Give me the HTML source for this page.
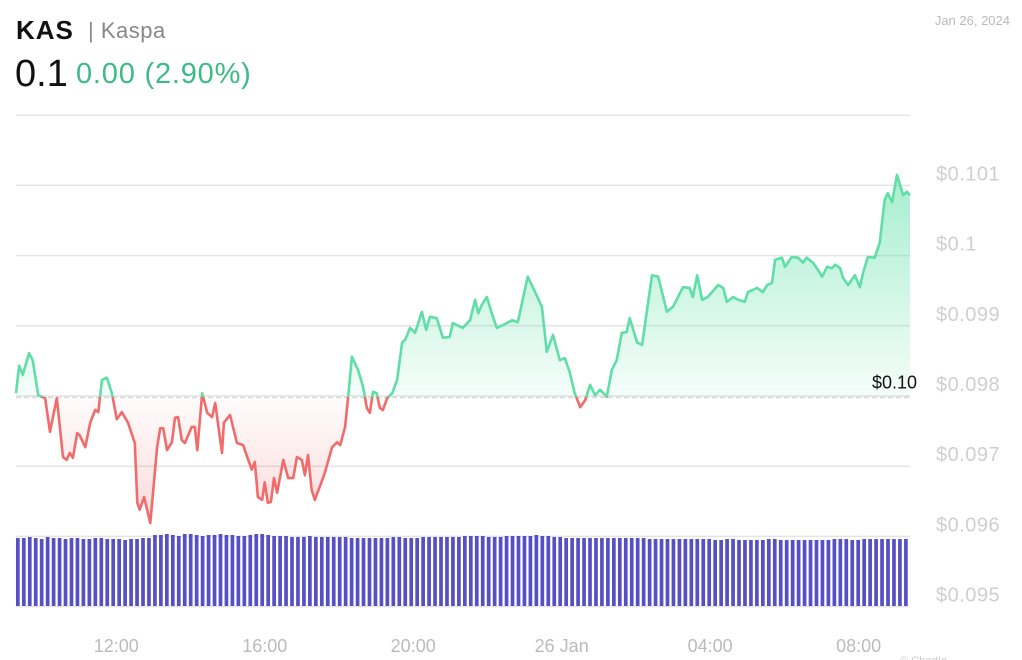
<!DOCTYPE html>
<html><head><meta charset="utf-8"><style>
body{margin:0;background:#fff;width:1022px;height:660px;overflow:hidden;font-family:"Liberation Sans",sans-serif;}
svg{position:absolute;left:0;top:0}
</style></head><body>
<svg id="c" width="1022" height="660" viewBox="0 0 1022 660" xmlns="http://www.w3.org/2000/svg">
<defs>
<linearGradient id="gg" gradientUnits="userSpaceOnUse" x1="0" y1="175" x2="0" y2="397"><stop offset="0" stop-color="#5ee0a8" stop-opacity="0.55"/><stop offset="1" stop-color="#5ee0a8" stop-opacity="0.06"/></linearGradient>
<linearGradient id="rg" gradientUnits="userSpaceOnUse" x1="0" y1="397" x2="0" y2="525"><stop offset="0" stop-color="#f06a6a" stop-opacity="0.02"/><stop offset="1" stop-color="#f06a6a" stop-opacity="0.25"/></linearGradient>
<clipPath id="above"><rect x="0" y="0" width="1022" height="397"/></clipPath>
<clipPath id="below"><rect x="0" y="397" width="1022" height="300"/></clipPath>
</defs>
<text x="16" y="39" font-size="26" font-weight="bold" fill="#111" letter-spacing="1">KAS</text>
<text x="88" y="38" font-size="22" fill="#888" letter-spacing="0.5">| Kaspa</text>
<text x="15" y="86" font-size="38" fill="#111">0.1</text>
<text x="76" y="83" font-size="29" fill="#3dbb86" letter-spacing="0.8">0.00 (2.90%)</text>
<text x="1010" y="25" font-size="13" fill="#bbb" text-anchor="end">Jan 26, 2024</text>
<g id="grid"></g><g id="vol"></g><g id="area"></g><g id="line"></g><g id="labels"></g>
<text x="900" y="664" font-size="11" fill="#ccc">© ChartIn</text>
</svg>
<script>
const priceTimes=[0,5,11,21,27,36,47,55,66,76,82,87,92,99,103,112,120,128,133,139,147,155,163,171,181,192,196,200,207,217,228,233,238,244,252,257,262,268,273,284,289,293,301,309,317,322,333,336,346,357,367,381,386,391,398,402,407,412,417,422,432,440,448,454,462,467,472,478,483,495,499,511,519,524,532,537,543,553,561,567,572,577,583,588,593,600,608,616,624,629,637,645,656,663,669,680,690,701,706,722,734,742,747,753,761,769,777,787,802,811,827,836,850,858,868,879,887,895,903,912,920,928,936,944,955,963,971,979,987,992,1004,1012,1028,1038,1052,1062,1070,1078,1089,1094,1101,1109,1118,1135,1143,1149,1159,1167,1178,1183,1198,1207,1214,1222,1227,1238,1243,1254,1264,1272,1278,1288,1296,1303,1311,1319,1324,1332,1337,1345,1356,1364,1369,1377,1388,1396,1404,1409,1416,1424,1434,1440,1445];
const priceValues=[0.09804,0.09843,0.09830,0.09861,0.09851,0.09801,0.09797,0.09749,0.09797,0.09713,0.09709,0.09719,0.09712,0.09747,0.09744,0.09727,0.09762,0.09780,0.09777,0.09823,0.09826,0.09804,0.09767,0.09777,0.09762,0.09733,0.09648,0.09638,0.09656,0.09619,0.09727,0.09754,0.09754,0.09723,0.09734,0.09769,0.09770,0.09737,0.09733,0.09756,0.09756,0.09723,0.09804,0.09776,0.09770,0.09790,0.09719,0.09762,0.09773,0.09733,0.09730,0.09695,0.09706,0.09656,0.09652,0.09677,0.09648,0.09649,0.09683,0.09662,0.09709,0.09683,0.09683,0.09713,0.09709,0.09687,0.09716,0.09666,0.09652,0.09680,0.09690,0.09727,0.09734,0.09730,0.09756,0.09799,0.09856,0.09837,0.09813,0.09783,0.09776,0.09806,0.09804,0.09783,0.09780,0.09797,0.09804,0.09823,0.09876,0.09880,0.09897,0.09890,0.09920,0.09894,0.09913,0.09911,0.09883,0.09884,0.09904,0.09897,0.09908,0.09937,0.09918,0.09930,0.09941,0.09918,0.09897,0.09901,0.09908,0.09905,0.09970,0.09954,0.09927,0.09863,0.09887,0.09851,0.09854,0.09834,0.09804,0.09784,0.09794,0.09816,0.09801,0.09809,0.09799,0.09837,0.09851,0.09890,0.09891,0.09911,0.09876,0.09873,0.09972,0.09970,0.09920,0.09927,0.09941,0.09955,0.09954,0.09941,0.09972,0.09937,0.09941,0.09958,0.09954,0.09934,0.09941,0.09937,0.09934,0.09948,0.09954,0.09948,0.09958,0.09961,0.09994,0.09997,0.09984,0.09998,0.09997,0.09990,0.09997,0.09990,0.09980,0.09970,0.09984,0.09982,0.09987,0.09982,0.09968,0.09958,0.09972,0.09955,0.09975,0.09998,0.09997,0.10018,0.10079,0.10089,0.10076,0.10115,0.10086,0.10091,0.10086];
const volumes=[68,68,69,68,67,69,68,68,67,68,68,67,67,68,68,67,67,67,66,67,67,68,68,
71,71,72,71,70,72,72,71,70,71,71,72,71,71,70,70,71,72,72,71,70,70,70,69,69,69,70,69,69,69,
69,69,69,68,68,68,68,68,68,68,69,69,68,68,68,69,69,69,69,69,69,69,70,70,70,70,69,69,69,70,70,70,70,70,71,70,70,69,69,68,68,68,68,68,68,
68,68,68,68,68,68,68,68,67,67,67,67,67,67,67,67,67,67,67,66,66,67,67,66,66,66,66,66,67,67,66,66,66,66,66,66,66,66,66,67,67,67,66,66,67,67,67,67,67,67,67,67];
const yTicks=[0.101,0.1,0.099,0.098,0.097,0.096,0.095];
const yTickLabels=["$0.101","$0.1","$0.099","$0.098","$0.097","$0.096","$0.095"];
const xTickTimes=[162,402,642,882,1122,1362];
const xTickLabels=["12:00","16:00","20:00","26 Jan","04:00","08:00"];
const baseline=0.09798;
const baselineLabel="$0.10";

const NS="http://www.w3.org/2000/svg";
const X0=16,X1=910,T1=1445;
const x=t=>X0+t*(X1-X0)/T1;
const y=p=>396-(p-0.098)*70200;
const volY=v=>606-v;
function mk(tag,attrs,parent){const e=document.createElementNS(NS,tag);for(const k in attrs)e.setAttribute(k,attrs[k]);document.getElementById(parent).appendChild(e);return e;}
[0.102,...yTicks].forEach(v=>{const l=mk('line',{x1:X0,x2:X1,y1:y(v),y2:y(v),stroke:'#e4e4e4','stroke-width':1.5},'grid');

});
yTicks.forEach((v,i)=>{const t=mk('text',{x:936,y:y(v)-5,'font-size':20,fill:'#cfcfcf','letter-spacing':0.5},'labels');t.textContent=yTickLabels[i];

});
xTickTimes.forEach((v,i)=>{const t=mk('text',{x:x(v),y:652,'font-size':18,fill:'#bbb','text-anchor':'middle'},'labels');t.textContent=xTickLabels[i];

});
const step=(X1-X0)/volumes.length;
volumes.forEach((v,i)=>{const r=mk('rect',{x:X0+i*step,y:volY(v),width:step*0.62,height:606-volY(v),fill:'#5650c4'},'vol');

});
const pts=priceTimes.map((t,i)=>[x(t),y(priceValues[i])]);
const d='M'+pts.map(p=>p[0].toFixed(1)+','+p[1].toFixed(1)).join('L');
const by=y(baseline);
const ad=d+`L${pts[pts.length-1][0]},${by}L${pts[0][0]},${by}Z`;
const ga=mk('path',{d:ad,fill:'url(#gg)','clip-path':'url(#above)'},'area');


const ra=mk('path',{d:ad,fill:'url(#rg)','clip-path':'url(#below)'},'area');


const bl=mk('line',{x1:X0,x2:X1,y1:by,y2:by,stroke:'#d8d8d8','stroke-width':1.5,'stroke-dasharray':'5,3'},'line');


const gl=mk('path',{d:d,fill:'none',stroke:'#5fdea7','stroke-width':2.6,'stroke-linejoin':'round','clip-path':'url(#above)'},'line');


const rl=mk('path',{d:d,fill:'none',stroke:'#f26b6b','stroke-width':2.6,'stroke-linejoin':'round','clip-path':'url(#below)'},'line');


const lb=mk('text',{x:917,y:by-9,'font-size':18,fill:'#111','text-anchor':'end'},'labels');lb.textContent=baselineLabel;


</script>
</body></html>
